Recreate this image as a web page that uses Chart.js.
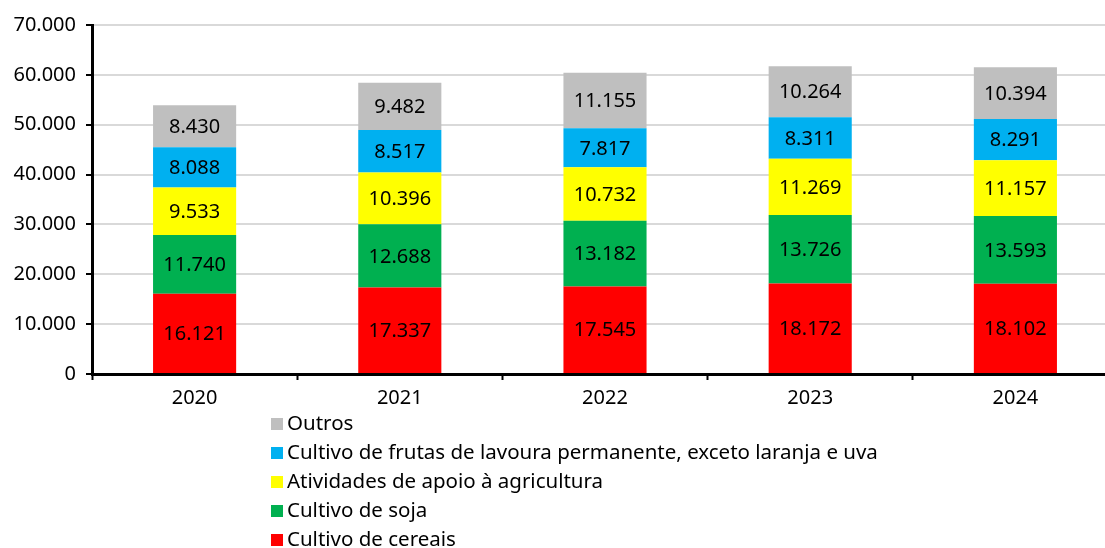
<!DOCTYPE html>
<html>
<head>
<meta charset="utf-8">
<script src="https://cdn.jsdelivr.net/npm/chart.js@4"></script>
<style>
  html, body { margin: 0; padding: 0; background: #fff; overflow: hidden; }
  #wrap { position: relative; width: 1105px; height: 548px; overflow: hidden; }
  #chart { position: absolute; left: 0; top: 3px; }
  #legend { position: absolute; left: 271px; top: 408px; font-family: 'Noto Sans', sans-serif; font-size: 20.5px; color: #000; }
  #legend div { height: 29px; line-height: 29px; white-space: nowrap; }
  #legend span.box { display: inline-block; width: 12px; height: 12px; margin-right: 4px; vertical-align: 0px; }
</style>
</head>
<body>
<div id="wrap">
  <canvas id="chart" width="1125" height="545"></canvas>
  <div id="legend"></div>
</div>
<script>
const years    = ['2020', '2021', '2022', '2023', '2024'];
const cereais  = [16121, 17337, 17545, 18172, 18102];
const soja     = [11740, 12688, 13182, 13726, 13593];
const apoio    = [9533, 10396, 10732, 11269, 11157];
const frutas   = [8088, 8517, 7817, 8311, 8291];
const outros   = [8430, 9482, 11155, 10264, 10394];

const seriesNames = [
    'Cultivo de cereais',
    'Cultivo de soja',
    'Atividades de apoio à agricultura',
    'Cultivo de frutas de lavoura permanente, exceto laranja e uva',
    'Outros'
];
const seriesData   = [cereais, soja, apoio, frutas, outros];
const seriesColors = ['#ff0000', '#00b050', '#ffff00', '#00b0f0', '#bfbfbf'];

const FONT = "'Noto Sans', sans-serif";
const fmt = v => String(Math.round(v)).replace(/\B(?=(\d{3})+(?!\d))/g, '.');

// value labels centred in each segment
const barLabels = {
    id: 'barLabels',
    afterDatasetsDraw(chart) {
        const ctx = chart.ctx;
        ctx.save();
        ctx.font = '20px ' + FONT;
        ctx.fillStyle = '#000';
        ctx.textAlign = 'center';
        ctx.textBaseline = 'middle';
        chart.data.datasets.forEach((ds, i) => {
            chart.getDatasetMeta(i).data.forEach((bar, j) => {
                const mid = (bar.y + bar.base) / 2;
                ctx.fillText(fmt(ds.data[j]), bar.x, mid + 1);
            });
        });
        ctx.restore();
    }
};

new Chart(document.getElementById('chart'), {
    type: 'bar',
    data: {
        labels: years,
        datasets: seriesNames.map((name, i) => ({
            label: name,
            data: seriesData[i],
            backgroundColor: seriesColors[i],
            borderWidth: 0,
            barPercentage: 0.405,
            categoryPercentage: 1
        }))
    },
    options: {
        responsive: false,
        animation: false,
        layout: { padding: { top: 22, right: 7, left: 0, bottom: 129 } },
        plugins: {
            legend: { display: false },
            tooltip: { enabled: false }
        },
        scales: {
            x: {
                stacked: true,
                afterFit: s => { s.height = 45; },
                grid: {
                    offset: true,
                    drawOnChartArea: false,
                    drawTicks: true,
                    tickLength: 6,
                    tickColor: '#000',
                    tickWidth: 2
                },
                border: { color: '#000', width: 3 },
                ticks: { color: '#000', padding: 6, font: { family: FONT, size: 20 } }
            },
            y: {
                stacked: true,
                min: 0,
                max: 70000,
                afterFit: s => { s.width = 92; },
                grid: {
                    color: '#d9d9d9',
                    lineWidth: 2,
                    tickLength: 6,
                    tickColor: '#000',
                    tickWidth: 2
                },
                border: { color: '#000', width: 3 },
                ticks: {
                    stepSize: 10000,
                    color: '#000',
                    padding: 10,
                    font: { family: FONT, size: 20 },
                    callback: v => fmt(v)
                }
            }
        }
    },
    plugins: [barLabels]
});

// legend, reversed order like the source
const legend = document.getElementById('legend');
for (let i = seriesNames.length - 1; i >= 0; i--) {
    const row = document.createElement('div');
    const box = document.createElement('span');
    box.className = 'box';
    box.style.background = seriesColors[i];
    row.appendChild(box);
    row.appendChild(document.createTextNode(seriesNames[i]));
    legend.appendChild(row);
}
</script>
</body>
</html>
